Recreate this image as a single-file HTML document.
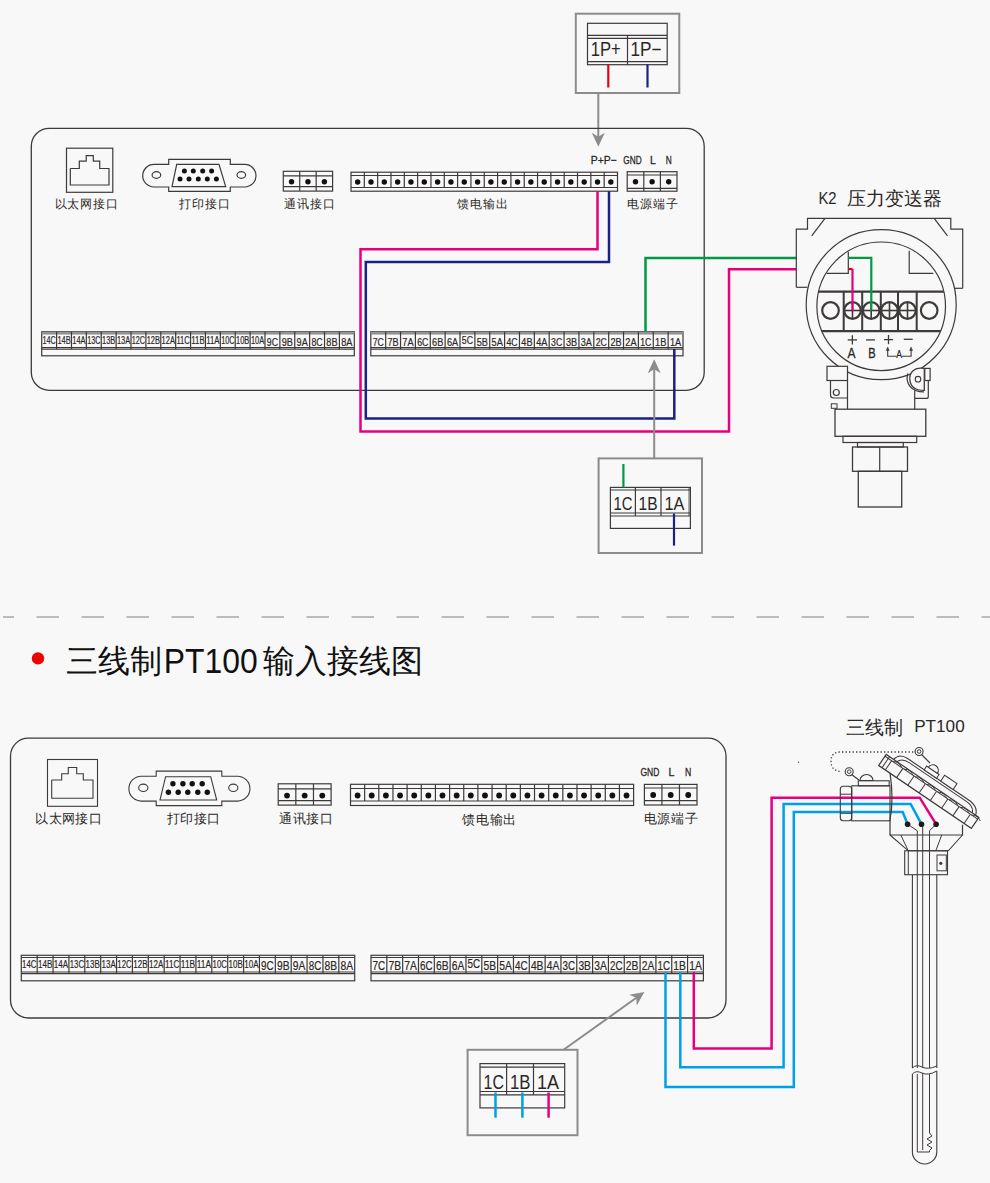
<!DOCTYPE html>
<html><head><meta charset="utf-8"><style>
html,body{margin:0;padding:0;background:#f8f8f8;width:990px;height:1183px;overflow:hidden}
svg{position:absolute;left:0;top:0;display:block}
</style></head><body>
<svg width="990" height="1183" viewBox="0 0 990 1183">
<rect x="0" y="0" width="990" height="1183" fill="#f8f8f8"/>
<rect x="575.8" y="13.7" width="103.5" height="79.3" rx="0" stroke="#8c8c8c" stroke-width="2" fill="none" />
<rect x="587.5" y="23.3" width="79.7" height="41.4" rx="0" stroke="#3e3a39" stroke-width="1.2" fill="none" />
<line x1="587.5" y1="35.3" x2="667.2" y2="35.3" stroke="#3e3a39" stroke-width="1.2" />
<line x1="587.5" y1="38.3" x2="667.2" y2="38.3" stroke="#3e3a39" stroke-width="1.2" />
<line x1="587.5" y1="61.7" x2="667.2" y2="61.7" stroke="#3e3a39" stroke-width="1.2" />
<line x1="627.5" y1="35.3" x2="627.5" y2="64.7" stroke="#3e3a39" stroke-width="1.2" />
<text x="590.8" y="56.3" font-size="19.5" fill="#2b2726" text-anchor="start" font-weight="400" font-family="Liberation Sans, sans-serif" textLength="30" lengthAdjust="spacingAndGlyphs" >1P+</text>
<text x="630.5" y="56.3" font-size="19.5" fill="#2b2726" text-anchor="start" font-weight="400" font-family="Liberation Sans, sans-serif" textLength="31" lengthAdjust="spacingAndGlyphs" >1P&#8722;</text>
<line x1="608.3" y1="64.5" x2="608.3" y2="87.5" stroke="#e60012" stroke-width="2.2" />
<line x1="647.5" y1="64.5" x2="647.5" y2="87.5" stroke="#1d2088" stroke-width="2.2" />
<line x1="598.3" y1="93" x2="598.3" y2="140.7" stroke="#8c8c8c" stroke-width="2" />
<polygon points="598.3,146.7 591.8,132.7 598.3,136.7 604.8,132.7" stroke="none" stroke-width="0" fill="#8c8c8c" stroke-linejoin="miter" />
<rect x="31.3" y="128.3" width="672.9" height="262" rx="18" stroke="#3e3a39" stroke-width="1.3" fill="none" />
<rect x="66.5" y="148.2" width="46.3" height="44.1" rx="0" stroke="#3e3a39" stroke-width="1.2" fill="none" />
<polyline points="70.3,168.5 79.3,168.5 79.3,161.2 86.2,161.2 86.2,155.7 93.3,155.7 93.3,161.2 99.7,161.2 99.7,168.5 109,168.5 109,185 70.3,185 70.3,168.5" stroke="#3e3a39" stroke-width="1.2" fill="none" stroke-linejoin="miter" />
<text x="54.5" y="207.8" font-size="12" fill="#2b2726" text-anchor="start" font-weight="500" letter-spacing="0.75" font-family="Liberation Sans, sans-serif" >以太网接口</text>
<path d="M168.7,164.4 L154,164.4 A11.3,11.3 0 0 0 154,187 L168.7,187 L168.7,191.3 L230.3,191.3 L230.3,187 L244.7,187 A11.3,11.3 0 0 0 244.7,164.4 L230.3,164.4 L230.3,159.3 L168.7,159.3 Z" stroke="#3e3a39" stroke-width="1.2" fill="none" />
<polygon points="176.7,164.4 219,164.4 225.7,186.7 172,186.7" stroke="#3e3a39" stroke-width="1.2" fill="none" stroke-linejoin="miter" />
<ellipse cx="156.4" cy="175" rx="4.3" ry="3.4" stroke="#3e3a39" stroke-width="1.2" fill="none"/>
<ellipse cx="241.3" cy="175" rx="4.3" ry="3.4" stroke="#3e3a39" stroke-width="1.2" fill="none"/>
<circle cx="184.4" cy="171" r="2.5" fill="#111"/>
<circle cx="193.3" cy="171" r="2.5" fill="#111"/>
<circle cx="202.7" cy="171" r="2.5" fill="#111"/>
<circle cx="211.6" cy="171" r="2.5" fill="#111"/>
<circle cx="180" cy="179" r="2.5" fill="#111"/>
<circle cx="189" cy="179" r="2.5" fill="#111"/>
<circle cx="198.3" cy="179" r="2.5" fill="#111"/>
<circle cx="207.3" cy="179" r="2.5" fill="#111"/>
<circle cx="216.4" cy="179" r="2.5" fill="#111"/>
<text x="178.5" y="207.8" font-size="12" fill="#2b2726" text-anchor="start" font-weight="500" letter-spacing="1" font-family="Liberation Sans, sans-serif" >打印接口</text>
<rect x="283.3" y="171.3" width="49.3" height="19.8" rx="0" stroke="#3e3a39" stroke-width="1.2" fill="none" />
<line x1="283.3" y1="175.8" x2="332.6" y2="175.8" stroke="#3e3a39" stroke-width="1.2" />
<line x1="283.3" y1="186.7" x2="332.6" y2="186.7" stroke="#3e3a39" stroke-width="1.2" />
<line x1="299.73" y1="171.3" x2="299.73" y2="191.1" stroke="#3e3a39" stroke-width="1.2" />
<line x1="316.17" y1="171.3" x2="316.17" y2="191.1" stroke="#3e3a39" stroke-width="1.2" />
<circle cx="291.52" cy="181.8" r="2.7" fill="#111"/>
<circle cx="307.95" cy="181.8" r="2.7" fill="#111"/>
<circle cx="324.38" cy="181.8" r="2.7" fill="#111"/>
<text x="283.8" y="207.8" font-size="12" fill="#2b2726" text-anchor="start" font-weight="500" letter-spacing="1" font-family="Liberation Sans, sans-serif" >通讯接口</text>
<rect x="351" y="172.2" width="266.5" height="19" rx="0" stroke="#3e3a39" stroke-width="1.2" fill="none" />
<line x1="351" y1="175.5" x2="617.5" y2="175.5" stroke="#3e3a39" stroke-width="1.2" />
<line x1="351" y1="187.5" x2="617.5" y2="187.5" stroke="#3e3a39" stroke-width="1.2" />
<line x1="364.32" y1="172.2" x2="364.32" y2="187.5" stroke="#3e3a39" stroke-width="1.2" />
<line x1="377.65" y1="172.2" x2="377.65" y2="187.5" stroke="#3e3a39" stroke-width="1.2" />
<line x1="390.98" y1="172.2" x2="390.98" y2="187.5" stroke="#3e3a39" stroke-width="1.2" />
<line x1="404.3" y1="172.2" x2="404.3" y2="187.5" stroke="#3e3a39" stroke-width="1.2" />
<line x1="417.62" y1="172.2" x2="417.62" y2="187.5" stroke="#3e3a39" stroke-width="1.2" />
<line x1="430.95" y1="172.2" x2="430.95" y2="187.5" stroke="#3e3a39" stroke-width="1.2" />
<line x1="444.27" y1="172.2" x2="444.27" y2="187.5" stroke="#3e3a39" stroke-width="1.2" />
<line x1="457.6" y1="172.2" x2="457.6" y2="187.5" stroke="#3e3a39" stroke-width="1.2" />
<line x1="470.93" y1="172.2" x2="470.93" y2="187.5" stroke="#3e3a39" stroke-width="1.2" />
<line x1="484.25" y1="172.2" x2="484.25" y2="187.5" stroke="#3e3a39" stroke-width="1.2" />
<line x1="497.57" y1="172.2" x2="497.57" y2="187.5" stroke="#3e3a39" stroke-width="1.2" />
<line x1="510.9" y1="172.2" x2="510.9" y2="187.5" stroke="#3e3a39" stroke-width="1.2" />
<line x1="524.23" y1="172.2" x2="524.23" y2="187.5" stroke="#3e3a39" stroke-width="1.2" />
<line x1="537.55" y1="172.2" x2="537.55" y2="187.5" stroke="#3e3a39" stroke-width="1.2" />
<line x1="550.88" y1="172.2" x2="550.88" y2="187.5" stroke="#3e3a39" stroke-width="1.2" />
<line x1="564.2" y1="172.2" x2="564.2" y2="187.5" stroke="#3e3a39" stroke-width="1.2" />
<line x1="577.52" y1="172.2" x2="577.52" y2="187.5" stroke="#3e3a39" stroke-width="1.2" />
<line x1="590.85" y1="172.2" x2="590.85" y2="187.5" stroke="#3e3a39" stroke-width="1.2" />
<line x1="604.17" y1="172.2" x2="604.17" y2="187.5" stroke="#3e3a39" stroke-width="1.2" />
<circle cx="357.66" cy="182" r="2.7" fill="#111"/>
<circle cx="370.99" cy="182" r="2.7" fill="#111"/>
<circle cx="384.31" cy="182" r="2.7" fill="#111"/>
<circle cx="397.64" cy="182" r="2.7" fill="#111"/>
<circle cx="410.96" cy="182" r="2.7" fill="#111"/>
<circle cx="424.29" cy="182" r="2.7" fill="#111"/>
<circle cx="437.61" cy="182" r="2.7" fill="#111"/>
<circle cx="450.94" cy="182" r="2.7" fill="#111"/>
<circle cx="464.26" cy="182" r="2.7" fill="#111"/>
<circle cx="477.59" cy="182" r="2.7" fill="#111"/>
<circle cx="490.91" cy="182" r="2.7" fill="#111"/>
<circle cx="504.24" cy="182" r="2.7" fill="#111"/>
<circle cx="517.56" cy="182" r="2.7" fill="#111"/>
<circle cx="530.89" cy="182" r="2.7" fill="#111"/>
<circle cx="544.21" cy="182" r="2.7" fill="#111"/>
<circle cx="557.54" cy="182" r="2.7" fill="#111"/>
<circle cx="570.86" cy="182" r="2.7" fill="#111"/>
<circle cx="584.19" cy="182" r="2.7" fill="#111"/>
<circle cx="597.51" cy="182" r="2.7" fill="#111"/>
<circle cx="610.84" cy="182" r="2.7" fill="#111"/>
<text x="456.5" y="207.8" font-size="12" fill="#2b2726" text-anchor="start" font-weight="500" letter-spacing="1" font-family="Liberation Sans, sans-serif" >馈电输出</text>
<text x="590.8" y="164.2" font-size="11.5" fill="#2b2726" text-anchor="start" font-weight="400" font-family="Liberation Sans, sans-serif" textLength="26" lengthAdjust="spacingAndGlyphs" stroke="#2b2726" stroke-width="0.3">P+P&#8722;</text>
<text x="623.3" y="164.2" font-size="11.5" fill="#2b2726" text-anchor="start" font-weight="400" font-family="Liberation Sans, sans-serif" textLength="18.4" lengthAdjust="spacingAndGlyphs" stroke="#2b2726" stroke-width="0.3">GND</text>
<text x="650" y="164.2" font-size="11.5" fill="#2b2726" text-anchor="start" font-weight="400" font-family="Liberation Sans, sans-serif" textLength="5.8" lengthAdjust="spacingAndGlyphs" stroke="#2b2726" stroke-width="0.3">L</text>
<text x="665.8" y="164.2" font-size="11.5" fill="#2b2726" text-anchor="start" font-weight="400" font-family="Liberation Sans, sans-serif" textLength="6" lengthAdjust="spacingAndGlyphs" stroke="#2b2726" stroke-width="0.3">N</text>
<rect x="627.2" y="171.7" width="49.8" height="19.5" rx="0" stroke="#3e3a39" stroke-width="1.2" fill="none" />
<line x1="627.2" y1="175" x2="677" y2="175" stroke="#3e3a39" stroke-width="1.2" />
<line x1="627.2" y1="188.3" x2="677" y2="188.3" stroke="#3e3a39" stroke-width="1.2" />
<line x1="643.8" y1="171.7" x2="643.8" y2="191.2" stroke="#3e3a39" stroke-width="1.2" />
<line x1="660.4" y1="171.7" x2="660.4" y2="191.2" stroke="#3e3a39" stroke-width="1.2" />
<circle cx="635.5" cy="181.7" r="2.7" fill="#111"/>
<circle cx="652.1" cy="181.7" r="2.7" fill="#111"/>
<circle cx="668.7" cy="181.7" r="2.7" fill="#111"/>
<text x="627.2" y="207.8" font-size="12" fill="#2b2726" text-anchor="start" font-weight="500" letter-spacing="0.8" font-family="Liberation Sans, sans-serif" >电源端子</text>
<rect x="41.7" y="331.7" width="312.6" height="24.1" rx="0" stroke="#3e3a39" stroke-width="1.2" fill="none" />
<rect x="41.7" y="331.7" width="312.6" height="2.3" rx="0" stroke="none" stroke-width="0" fill="#9a9a9a" />
<line x1="41.7" y1="334" x2="354.3" y2="334" stroke="#777" stroke-width="0.8" />
<line x1="41.7" y1="347.5" x2="354.3" y2="347.5" stroke="#3e3a39" stroke-width="1.2" />
<line x1="41.7" y1="349.2" x2="354.3" y2="349.2" stroke="#3e3a39" stroke-width="1.2" />
<line x1="56.59" y1="331.7" x2="56.59" y2="349.2" stroke="#3e3a39" stroke-width="1.2" />
<line x1="71.47" y1="331.7" x2="71.47" y2="349.2" stroke="#3e3a39" stroke-width="1.2" />
<line x1="86.36" y1="331.7" x2="86.36" y2="349.2" stroke="#3e3a39" stroke-width="1.2" />
<line x1="101.24" y1="331.7" x2="101.24" y2="349.2" stroke="#3e3a39" stroke-width="1.2" />
<line x1="116.13" y1="331.7" x2="116.13" y2="349.2" stroke="#3e3a39" stroke-width="1.2" />
<line x1="131.01" y1="331.7" x2="131.01" y2="349.2" stroke="#3e3a39" stroke-width="1.2" />
<line x1="145.9" y1="331.7" x2="145.9" y2="349.2" stroke="#3e3a39" stroke-width="1.2" />
<line x1="160.79" y1="331.7" x2="160.79" y2="349.2" stroke="#3e3a39" stroke-width="1.2" />
<line x1="175.67" y1="331.7" x2="175.67" y2="349.2" stroke="#3e3a39" stroke-width="1.2" />
<line x1="190.56" y1="331.7" x2="190.56" y2="349.2" stroke="#3e3a39" stroke-width="1.2" />
<line x1="205.44" y1="331.7" x2="205.44" y2="349.2" stroke="#3e3a39" stroke-width="1.2" />
<line x1="220.33" y1="331.7" x2="220.33" y2="349.2" stroke="#3e3a39" stroke-width="1.2" />
<line x1="235.21" y1="331.7" x2="235.21" y2="349.2" stroke="#3e3a39" stroke-width="1.2" />
<line x1="250.1" y1="331.7" x2="250.1" y2="349.2" stroke="#3e3a39" stroke-width="1.2" />
<line x1="264.99" y1="331.7" x2="264.99" y2="349.2" stroke="#3e3a39" stroke-width="1.2" />
<line x1="279.87" y1="331.7" x2="279.87" y2="349.2" stroke="#3e3a39" stroke-width="1.2" />
<line x1="294.76" y1="331.7" x2="294.76" y2="349.2" stroke="#3e3a39" stroke-width="1.2" />
<line x1="309.64" y1="331.7" x2="309.64" y2="349.2" stroke="#3e3a39" stroke-width="1.2" />
<line x1="324.53" y1="331.7" x2="324.53" y2="349.2" stroke="#3e3a39" stroke-width="1.2" />
<line x1="339.41" y1="331.7" x2="339.41" y2="349.2" stroke="#3e3a39" stroke-width="1.2" />
<text x="42.5" y="344.2" font-size="10.3" fill="#2b2726" text-anchor="start" font-weight="400" font-family="Liberation Sans, sans-serif" textLength="13.29" lengthAdjust="spacingAndGlyphs" stroke="#2b2726" stroke-width="0.2">14C</text>
<text x="57.39" y="344.2" font-size="10.3" fill="#2b2726" text-anchor="start" font-weight="400" font-family="Liberation Sans, sans-serif" textLength="13.29" lengthAdjust="spacingAndGlyphs" stroke="#2b2726" stroke-width="0.2">14B</text>
<text x="72.27" y="344.2" font-size="10.3" fill="#2b2726" text-anchor="start" font-weight="400" font-family="Liberation Sans, sans-serif" textLength="13.29" lengthAdjust="spacingAndGlyphs" stroke="#2b2726" stroke-width="0.2">14A</text>
<text x="87.16" y="344.2" font-size="10.3" fill="#2b2726" text-anchor="start" font-weight="400" font-family="Liberation Sans, sans-serif" textLength="13.29" lengthAdjust="spacingAndGlyphs" stroke="#2b2726" stroke-width="0.2">13C</text>
<text x="102.04" y="344.2" font-size="10.3" fill="#2b2726" text-anchor="start" font-weight="400" font-family="Liberation Sans, sans-serif" textLength="13.29" lengthAdjust="spacingAndGlyphs" stroke="#2b2726" stroke-width="0.2">13B</text>
<text x="116.93" y="344.2" font-size="10.3" fill="#2b2726" text-anchor="start" font-weight="400" font-family="Liberation Sans, sans-serif" textLength="13.29" lengthAdjust="spacingAndGlyphs" stroke="#2b2726" stroke-width="0.2">13A</text>
<text x="131.81" y="344.2" font-size="10.3" fill="#2b2726" text-anchor="start" font-weight="400" font-family="Liberation Sans, sans-serif" textLength="13.29" lengthAdjust="spacingAndGlyphs" stroke="#2b2726" stroke-width="0.2">12C</text>
<text x="146.7" y="344.2" font-size="10.3" fill="#2b2726" text-anchor="start" font-weight="400" font-family="Liberation Sans, sans-serif" textLength="13.29" lengthAdjust="spacingAndGlyphs" stroke="#2b2726" stroke-width="0.2">12B</text>
<text x="161.59" y="344.2" font-size="10.3" fill="#2b2726" text-anchor="start" font-weight="400" font-family="Liberation Sans, sans-serif" textLength="13.29" lengthAdjust="spacingAndGlyphs" stroke="#2b2726" stroke-width="0.2">12A</text>
<text x="176.47" y="344.2" font-size="10.3" fill="#2b2726" text-anchor="start" font-weight="400" font-family="Liberation Sans, sans-serif" textLength="13.29" lengthAdjust="spacingAndGlyphs" stroke="#2b2726" stroke-width="0.2">11C</text>
<text x="191.36" y="344.2" font-size="10.3" fill="#2b2726" text-anchor="start" font-weight="400" font-family="Liberation Sans, sans-serif" textLength="13.29" lengthAdjust="spacingAndGlyphs" stroke="#2b2726" stroke-width="0.2">11B</text>
<text x="206.24" y="344.2" font-size="10.3" fill="#2b2726" text-anchor="start" font-weight="400" font-family="Liberation Sans, sans-serif" textLength="13.29" lengthAdjust="spacingAndGlyphs" stroke="#2b2726" stroke-width="0.2">11A</text>
<text x="221.13" y="344.2" font-size="10.3" fill="#2b2726" text-anchor="start" font-weight="400" font-family="Liberation Sans, sans-serif" textLength="13.29" lengthAdjust="spacingAndGlyphs" stroke="#2b2726" stroke-width="0.2">10C</text>
<text x="236.01" y="344.2" font-size="10.3" fill="#2b2726" text-anchor="start" font-weight="400" font-family="Liberation Sans, sans-serif" textLength="13.29" lengthAdjust="spacingAndGlyphs" stroke="#2b2726" stroke-width="0.2">10B</text>
<text x="250.9" y="344.2" font-size="10.3" fill="#2b2726" text-anchor="start" font-weight="400" font-family="Liberation Sans, sans-serif" textLength="13.29" lengthAdjust="spacingAndGlyphs" stroke="#2b2726" stroke-width="0.2">10A</text>
<text x="266.83" y="345.8" font-size="11.2" fill="#2b2726" text-anchor="start" font-weight="400" font-family="Liberation Sans, sans-serif" textLength="11.2" lengthAdjust="spacingAndGlyphs" stroke="#2b2726" stroke-width="0.2">9C</text>
<text x="281.71" y="345.8" font-size="11.2" fill="#2b2726" text-anchor="start" font-weight="400" font-family="Liberation Sans, sans-serif" textLength="11.2" lengthAdjust="spacingAndGlyphs" stroke="#2b2726" stroke-width="0.2">9B</text>
<text x="296.6" y="345.8" font-size="11.2" fill="#2b2726" text-anchor="start" font-weight="400" font-family="Liberation Sans, sans-serif" textLength="11.2" lengthAdjust="spacingAndGlyphs" stroke="#2b2726" stroke-width="0.2">9A</text>
<text x="311.49" y="345.8" font-size="11.2" fill="#2b2726" text-anchor="start" font-weight="400" font-family="Liberation Sans, sans-serif" textLength="11.2" lengthAdjust="spacingAndGlyphs" stroke="#2b2726" stroke-width="0.2">8C</text>
<text x="326.37" y="345.8" font-size="11.2" fill="#2b2726" text-anchor="start" font-weight="400" font-family="Liberation Sans, sans-serif" textLength="11.2" lengthAdjust="spacingAndGlyphs" stroke="#2b2726" stroke-width="0.2">8B</text>
<text x="341.26" y="345.8" font-size="11.2" fill="#2b2726" text-anchor="start" font-weight="400" font-family="Liberation Sans, sans-serif" textLength="11.2" lengthAdjust="spacingAndGlyphs" stroke="#2b2726" stroke-width="0.2">8A</text>
<rect x="370.8" y="331.7" width="312.2" height="24.1" rx="0" stroke="#3e3a39" stroke-width="1.2" fill="none" />
<rect x="370.8" y="331.7" width="312.2" height="2.3" rx="0" stroke="none" stroke-width="0" fill="#9a9a9a" />
<line x1="370.8" y1="334" x2="683" y2="334" stroke="#777" stroke-width="0.8" />
<line x1="370.8" y1="347.5" x2="683" y2="347.5" stroke="#3e3a39" stroke-width="1.2" />
<line x1="370.8" y1="349.2" x2="683" y2="349.2" stroke="#3e3a39" stroke-width="1.2" />
<line x1="385.67" y1="331.7" x2="385.67" y2="349.2" stroke="#3e3a39" stroke-width="1.2" />
<line x1="400.53" y1="331.7" x2="400.53" y2="349.2" stroke="#3e3a39" stroke-width="1.2" />
<line x1="415.4" y1="331.7" x2="415.4" y2="349.2" stroke="#3e3a39" stroke-width="1.2" />
<line x1="430.27" y1="331.7" x2="430.27" y2="349.2" stroke="#3e3a39" stroke-width="1.2" />
<line x1="445.13" y1="331.7" x2="445.13" y2="349.2" stroke="#3e3a39" stroke-width="1.2" />
<line x1="460" y1="331.7" x2="460" y2="349.2" stroke="#3e3a39" stroke-width="1.2" />
<line x1="474.87" y1="331.7" x2="474.87" y2="349.2" stroke="#3e3a39" stroke-width="1.2" />
<line x1="489.73" y1="331.7" x2="489.73" y2="349.2" stroke="#3e3a39" stroke-width="1.2" />
<line x1="504.6" y1="331.7" x2="504.6" y2="349.2" stroke="#3e3a39" stroke-width="1.2" />
<line x1="519.47" y1="331.7" x2="519.47" y2="349.2" stroke="#3e3a39" stroke-width="1.2" />
<line x1="534.33" y1="331.7" x2="534.33" y2="349.2" stroke="#3e3a39" stroke-width="1.2" />
<line x1="549.2" y1="331.7" x2="549.2" y2="349.2" stroke="#3e3a39" stroke-width="1.2" />
<line x1="564.07" y1="331.7" x2="564.07" y2="349.2" stroke="#3e3a39" stroke-width="1.2" />
<line x1="578.93" y1="331.7" x2="578.93" y2="349.2" stroke="#3e3a39" stroke-width="1.2" />
<line x1="593.8" y1="331.7" x2="593.8" y2="349.2" stroke="#3e3a39" stroke-width="1.2" />
<line x1="608.67" y1="331.7" x2="608.67" y2="349.2" stroke="#3e3a39" stroke-width="1.2" />
<line x1="623.53" y1="331.7" x2="623.53" y2="349.2" stroke="#3e3a39" stroke-width="1.2" />
<line x1="638.4" y1="331.7" x2="638.4" y2="349.2" stroke="#3e3a39" stroke-width="1.2" />
<line x1="653.27" y1="331.7" x2="653.27" y2="349.2" stroke="#3e3a39" stroke-width="1.2" />
<line x1="668.13" y1="331.7" x2="668.13" y2="349.2" stroke="#3e3a39" stroke-width="1.2" />
<text x="372.63" y="345.8" font-size="11.2" fill="#2b2726" text-anchor="start" font-weight="400" font-family="Liberation Sans, sans-serif" textLength="11.2" lengthAdjust="spacingAndGlyphs" stroke="#2b2726" stroke-width="0.2">7C</text>
<text x="387.5" y="345.8" font-size="11.2" fill="#2b2726" text-anchor="start" font-weight="400" font-family="Liberation Sans, sans-serif" textLength="11.2" lengthAdjust="spacingAndGlyphs" stroke="#2b2726" stroke-width="0.2">7B</text>
<text x="402.37" y="345.8" font-size="11.2" fill="#2b2726" text-anchor="start" font-weight="400" font-family="Liberation Sans, sans-serif" textLength="11.2" lengthAdjust="spacingAndGlyphs" stroke="#2b2726" stroke-width="0.2">7A</text>
<text x="417.23" y="345.8" font-size="11.2" fill="#2b2726" text-anchor="start" font-weight="400" font-family="Liberation Sans, sans-serif" textLength="11.2" lengthAdjust="spacingAndGlyphs" stroke="#2b2726" stroke-width="0.2">6C</text>
<text x="432.1" y="345.8" font-size="11.2" fill="#2b2726" text-anchor="start" font-weight="400" font-family="Liberation Sans, sans-serif" textLength="11.2" lengthAdjust="spacingAndGlyphs" stroke="#2b2726" stroke-width="0.2">6B</text>
<text x="446.97" y="345.8" font-size="11.2" fill="#2b2726" text-anchor="start" font-weight="400" font-family="Liberation Sans, sans-serif" textLength="11.2" lengthAdjust="spacingAndGlyphs" stroke="#2b2726" stroke-width="0.2">6A</text>
<text x="461.83" y="343.8" font-size="11.2" fill="#2b2726" text-anchor="start" font-weight="400" font-family="Liberation Sans, sans-serif" textLength="11.2" lengthAdjust="spacingAndGlyphs" stroke="#2b2726" stroke-width="0.2">5C</text>
<text x="476.7" y="345.8" font-size="11.2" fill="#2b2726" text-anchor="start" font-weight="400" font-family="Liberation Sans, sans-serif" textLength="11.2" lengthAdjust="spacingAndGlyphs" stroke="#2b2726" stroke-width="0.2">5B</text>
<text x="491.57" y="345.8" font-size="11.2" fill="#2b2726" text-anchor="start" font-weight="400" font-family="Liberation Sans, sans-serif" textLength="11.2" lengthAdjust="spacingAndGlyphs" stroke="#2b2726" stroke-width="0.2">5A</text>
<text x="506.43" y="345.8" font-size="11.2" fill="#2b2726" text-anchor="start" font-weight="400" font-family="Liberation Sans, sans-serif" textLength="11.2" lengthAdjust="spacingAndGlyphs" stroke="#2b2726" stroke-width="0.2">4C</text>
<text x="521.3" y="345.8" font-size="11.2" fill="#2b2726" text-anchor="start" font-weight="400" font-family="Liberation Sans, sans-serif" textLength="11.2" lengthAdjust="spacingAndGlyphs" stroke="#2b2726" stroke-width="0.2">4B</text>
<text x="536.17" y="345.8" font-size="11.2" fill="#2b2726" text-anchor="start" font-weight="400" font-family="Liberation Sans, sans-serif" textLength="11.2" lengthAdjust="spacingAndGlyphs" stroke="#2b2726" stroke-width="0.2">4A</text>
<text x="551.03" y="345.8" font-size="11.2" fill="#2b2726" text-anchor="start" font-weight="400" font-family="Liberation Sans, sans-serif" textLength="11.2" lengthAdjust="spacingAndGlyphs" stroke="#2b2726" stroke-width="0.2">3C</text>
<text x="565.9" y="345.8" font-size="11.2" fill="#2b2726" text-anchor="start" font-weight="400" font-family="Liberation Sans, sans-serif" textLength="11.2" lengthAdjust="spacingAndGlyphs" stroke="#2b2726" stroke-width="0.2">3B</text>
<text x="580.77" y="345.8" font-size="11.2" fill="#2b2726" text-anchor="start" font-weight="400" font-family="Liberation Sans, sans-serif" textLength="11.2" lengthAdjust="spacingAndGlyphs" stroke="#2b2726" stroke-width="0.2">3A</text>
<text x="595.63" y="345.8" font-size="11.2" fill="#2b2726" text-anchor="start" font-weight="400" font-family="Liberation Sans, sans-serif" textLength="11.2" lengthAdjust="spacingAndGlyphs" stroke="#2b2726" stroke-width="0.2">2C</text>
<text x="610.5" y="345.8" font-size="11.2" fill="#2b2726" text-anchor="start" font-weight="400" font-family="Liberation Sans, sans-serif" textLength="11.2" lengthAdjust="spacingAndGlyphs" stroke="#2b2726" stroke-width="0.2">2B</text>
<text x="625.37" y="345.8" font-size="11.2" fill="#2b2726" text-anchor="start" font-weight="400" font-family="Liberation Sans, sans-serif" textLength="11.2" lengthAdjust="spacingAndGlyphs" stroke="#2b2726" stroke-width="0.2">2A</text>
<text x="640.23" y="345.8" font-size="11.2" fill="#2b2726" text-anchor="start" font-weight="400" font-family="Liberation Sans, sans-serif" textLength="11.2" lengthAdjust="spacingAndGlyphs" stroke="#2b2726" stroke-width="0.2">1C</text>
<text x="655.1" y="345.8" font-size="11.2" fill="#2b2726" text-anchor="start" font-weight="400" font-family="Liberation Sans, sans-serif" textLength="11.2" lengthAdjust="spacingAndGlyphs" stroke="#2b2726" stroke-width="0.2">1B</text>
<text x="669.97" y="345.8" font-size="11.2" fill="#2b2726" text-anchor="start" font-weight="400" font-family="Liberation Sans, sans-serif" textLength="11.2" lengthAdjust="spacingAndGlyphs" stroke="#2b2726" stroke-width="0.2">1A</text>
<polyline points="597.5,191.2 597.5,249.2 360.5,249.2 360.5,431.5 729,431.5 729,269.2 796.3,269.2" stroke="#e4007f" stroke-width="2.5" fill="none" stroke-linejoin="miter" />
<polyline points="609,191.2 609,261.9 365.8,261.9 365.8,418.4 674.3,418.4 674.3,349" stroke="#1d2088" stroke-width="2.5" fill="none" stroke-linejoin="miter" />
<polyline points="645.5,331.7 645.5,258 796.3,258" stroke="#009944" stroke-width="2.5" fill="none" stroke-linejoin="miter" />
<line x1="654.2" y1="458.4" x2="654.2" y2="365.2" stroke="#8c8c8c" stroke-width="2" />
<polygon points="654.2,359.2 660.7,373.2 654.2,369.2 647.7,373.2" stroke="none" stroke-width="0" fill="#8c8c8c" stroke-linejoin="miter" />
<rect x="598.6" y="458.4" width="103.4" height="94.6" rx="0" stroke="#8c8c8c" stroke-width="2" fill="none" />
<rect x="610.4" y="487.4" width="80" height="41" rx="0" stroke="#3e3a39" stroke-width="1.2" fill="none" />
<line x1="610.4" y1="490" x2="690.4" y2="490" stroke="#3e3a39" stroke-width="1.2" />
<line x1="610.4" y1="513" x2="690.4" y2="513" stroke="#3e3a39" stroke-width="1.2" />
<line x1="610.4" y1="516" x2="690.4" y2="516" stroke="#3e3a39" stroke-width="1.2" />
<line x1="635.4" y1="487.4" x2="635.4" y2="516" stroke="#3e3a39" stroke-width="1.2" />
<line x1="661" y1="487.4" x2="661" y2="516" stroke="#3e3a39" stroke-width="1.2" />
<line x1="689" y1="487.4" x2="689" y2="516" stroke="#3e3a39" stroke-width="0.8" />
<text x="613.5" y="510.4" font-size="18.4" fill="#2b2726" text-anchor="start" font-weight="400" font-family="Liberation Sans, sans-serif" textLength="19" lengthAdjust="spacingAndGlyphs" >1C</text>
<text x="638.5" y="510.4" font-size="18.4" fill="#2b2726" text-anchor="start" font-weight="400" font-family="Liberation Sans, sans-serif" textLength="19" lengthAdjust="spacingAndGlyphs" >1B</text>
<text x="664.5" y="510.4" font-size="18.4" fill="#2b2726" text-anchor="start" font-weight="400" font-family="Liberation Sans, sans-serif" textLength="20" lengthAdjust="spacingAndGlyphs" >1A</text>
<line x1="623.4" y1="464" x2="623.4" y2="487.4" stroke="#009944" stroke-width="2.2" />
<line x1="674" y1="513.6" x2="674" y2="545.6" stroke="#1d2088" stroke-width="2.2" />
<text x="818.4" y="204.1" font-size="16.5" fill="#2b2726" text-anchor="start" font-weight="400" font-family="Liberation Sans, sans-serif" textLength="18.2" lengthAdjust="spacingAndGlyphs" >K2</text>
<text x="847" y="204.5" font-size="18.6" fill="#2b2726" text-anchor="start" font-weight="400" letter-spacing="0" font-family="Liberation Sans, sans-serif" >压力变送器</text>
<polyline points="796.3,287.3 796.3,229.2 807.5,229.2 807.5,218.3 950.8,218.3 950.8,229.2 962.7,229.2 962.7,288.3" stroke="#3e3a39" stroke-width="1.2" fill="none" stroke-linejoin="miter" />
<line x1="825" y1="218.3" x2="811.7" y2="235.8" stroke="#3e3a39" stroke-width="1.2" />
<line x1="934.2" y1="218.3" x2="947.5" y2="235.8" stroke="#3e3a39" stroke-width="1.2" />
<line x1="796.3" y1="287.3" x2="807.5" y2="287.3" stroke="#3e3a39" stroke-width="1.2" />
<line x1="962.7" y1="288.3" x2="955" y2="288.3" stroke="#3e3a39" stroke-width="1.2" />
<circle cx="881.2" cy="304.7" r="75" stroke="#3e3a39" stroke-width="1.2" fill="none"/>
<circle cx="881.2" cy="306.3" r="64.3" stroke="#3e3a39" stroke-width="1.2" fill="none"/>
<polyline points="848.3,251.7 848.3,273.3 826.7,273.3" stroke="#3e3a39" stroke-width="1.2" fill="none" stroke-linejoin="miter" />
<polyline points="909.2,250.8 909.2,273.3 933.3,273.3" stroke="#3e3a39" stroke-width="1.2" fill="none" stroke-linejoin="miter" />
<clipPath id="ic"><circle cx="881.2" cy="306.3" r="64.3"/></clipPath>
<g clip-path="url(#ic)">
<line x1="810" y1="291.7" x2="950" y2="291.7" stroke="#3e3a39" stroke-width="2.2" />
<line x1="810" y1="331.2" x2="950" y2="331.2" stroke="#3e3a39" stroke-width="2.2" />
<line x1="843.7" y1="291.7" x2="843.7" y2="331.2" stroke="#3e3a39" stroke-width="2" />
<line x1="862.2" y1="291.7" x2="862.2" y2="331.2" stroke="#3e3a39" stroke-width="2" />
<line x1="880.8" y1="291.7" x2="880.8" y2="331.2" stroke="#3e3a39" stroke-width="2" />
<line x1="898" y1="291.7" x2="898" y2="331.2" stroke="#3e3a39" stroke-width="2" />
<line x1="916.7" y1="291.7" x2="916.7" y2="331.2" stroke="#3e3a39" stroke-width="2" />
</g>
<circle cx="830.5" cy="310.5" r="8.3" stroke="#3e3a39" stroke-width="2.2" fill="none"/>
<circle cx="929.2" cy="310.5" r="8.3" stroke="#3e3a39" stroke-width="2.2" fill="none"/>
<circle cx="852.5" cy="310.5" r="8.3" stroke="#3e3a39" stroke-width="2.2" fill="none"/>
<line x1="844.2" y1="310.5" x2="860.8" y2="310.5" stroke="#3e3a39" stroke-width="1.6" />
<line x1="852.5" y1="302.2" x2="852.5" y2="318.8" stroke="#3e3a39" stroke-width="1.6" />
<circle cx="871.2" cy="310.5" r="8.3" stroke="#3e3a39" stroke-width="2.2" fill="none"/>
<line x1="862.9" y1="310.5" x2="879.5" y2="310.5" stroke="#3e3a39" stroke-width="1.6" />
<line x1="871.2" y1="302.2" x2="871.2" y2="318.8" stroke="#3e3a39" stroke-width="1.6" />
<circle cx="889.5" cy="310.5" r="8.3" stroke="#3e3a39" stroke-width="2.2" fill="none"/>
<line x1="881.2" y1="310.5" x2="897.8" y2="310.5" stroke="#3e3a39" stroke-width="1.6" />
<line x1="889.5" y1="302.2" x2="889.5" y2="318.8" stroke="#3e3a39" stroke-width="1.6" />
<circle cx="907.5" cy="310.5" r="8.3" stroke="#3e3a39" stroke-width="2.2" fill="none"/>
<line x1="899.2" y1="310.5" x2="915.8" y2="310.5" stroke="#3e3a39" stroke-width="1.6" />
<line x1="907.5" y1="302.2" x2="907.5" y2="318.8" stroke="#3e3a39" stroke-width="1.6" />
<polyline points="848.3,269 852.5,269" stroke="#e60012" stroke-width="2.2" fill="none" stroke-linejoin="miter" />
<polyline points="852.5,269 852.5,310.5" stroke="#e4007f" stroke-width="2.2" fill="none" stroke-linejoin="miter" />
<polyline points="848.3,257.8 871.3,257.8 871.3,310.5" stroke="#009944" stroke-width="2.2" fill="none" stroke-linejoin="miter" />
<line x1="847.7" y1="339.9" x2="857" y2="339.9" stroke="#3e3a39" stroke-width="1.3" />
<line x1="852.35" y1="335.3" x2="852.35" y2="344.5" stroke="#3e3a39" stroke-width="1.3" />
<line x1="866" y1="339.9" x2="874.9" y2="339.9" stroke="#3e3a39" stroke-width="1.3" />
<line x1="884" y1="339.6" x2="893" y2="339.6" stroke="#3e3a39" stroke-width="1.3" />
<line x1="888.5" y1="335" x2="888.5" y2="344.2" stroke="#3e3a39" stroke-width="1.3" />
<line x1="903.8" y1="339.3" x2="912.7" y2="339.3" stroke="#3e3a39" stroke-width="1.3" />
<text x="847.6" y="357.5" font-size="14.2" fill="#2b2726" text-anchor="start" font-weight="400" font-family="Liberation Sans, sans-serif" textLength="8" lengthAdjust="spacingAndGlyphs" stroke="#2b2726" stroke-width="0.3">A</text>
<text x="868.2" y="357.5" font-size="14.2" fill="#2b2726" text-anchor="start" font-weight="400" font-family="Liberation Sans, sans-serif" textLength="7.4" lengthAdjust="spacingAndGlyphs" stroke="#2b2726" stroke-width="0.3">B</text>
<text x="896.3" y="357.5" font-size="11" fill="#2b2726" text-anchor="start" font-weight="400" font-family="Liberation Sans, sans-serif" textLength="5.8" lengthAdjust="spacingAndGlyphs" stroke="#2b2726" stroke-width="0.2">A</text>
<polyline points="887.7,349 887.7,356.3 896.5,356.3" stroke="#3e3a39" stroke-width="1.1" fill="none" stroke-linejoin="miter" />
<polyline points="902,356.3 911.1,356.3 911.1,349" stroke="#3e3a39" stroke-width="1.1" fill="none" stroke-linejoin="miter" />
<polygon points="886.2,350.5 887.7,347 889.2,350.5" stroke="#3e3a39" stroke-width="0.5" fill="#3e3a39" stroke-linejoin="miter" />
<polygon points="909.6,350.5 911.1,347 912.6,350.5" stroke="#3e3a39" stroke-width="0.5" fill="#3e3a39" stroke-linejoin="miter" />
<rect x="827" y="366.3" width="20.5" height="14.2" rx="0" stroke="#3e3a39" stroke-width="1.2" fill="#f8f8f8" />
<path d="M830.5,380.5 L830.5,395 Q830.5,398 833.5,398 L847.5,398" stroke="#3e3a39" stroke-width="1.2" fill="none" />
<circle cx="836.3" cy="392.5" r="3" stroke="#3e3a39" stroke-width="1.2" fill="none"/>
<rect x="831.3" y="403.8" width="5.7" height="4.5" rx="0" stroke="#3e3a39" stroke-width="1" fill="none" />
<line x1="847.5" y1="380.5" x2="847.5" y2="409.2" stroke="#3e3a39" stroke-width="1.2" />
<line x1="914.7" y1="390.5" x2="914.7" y2="409.2" stroke="#3e3a39" stroke-width="1.2" />
<path d="M924.3,368.4 C913,366.5 909,374 909.9,380 C910.5,387 915,390.4 924.3,390.4 Z" stroke="#3e3a39" stroke-width="1.3" fill="#f8f8f8" />
<path d="M907.8,373.5 C905,383 911,392 924,391.8" stroke="#3e3a39" stroke-width="1.2" fill="none" />
<circle cx="918" cy="379.2" r="2.8" stroke="#3e3a39" stroke-width="1.1" fill="none"/>
<rect x="924.8" y="368.4" width="5.3" height="12.1" rx="0" stroke="#3e3a39" stroke-width="1.2" fill="#f8f8f8" />
<path d="M928.3,380.5 L928.3,396.4 Q928.3,398.4 926.3,398.4 L914.7,398.4" stroke="#3e3a39" stroke-width="1.2" fill="none" />
<rect x="835" y="409.2" width="90.8" height="27.1" rx="0" stroke="#3e3a39" stroke-width="1.3" fill="none" />
<rect x="843" y="436.3" width="73.7" height="6.2" rx="0" stroke="#3e3a39" stroke-width="1.2" fill="none" />
<rect x="857.5" y="442.5" width="45.8" height="4.5" rx="0" stroke="#3e3a39" stroke-width="1.2" fill="none" />
<rect x="852.5" y="447" width="55" height="24.3" rx="0" stroke="#3e3a39" stroke-width="1.3" fill="none" />
<line x1="879.7" y1="447" x2="879.7" y2="471.3" stroke="#3e3a39" stroke-width="1.2" />
<rect x="858.3" y="471.3" width="43.4" height="35.7" rx="0" stroke="#3e3a39" stroke-width="1.3" fill="none" />
<line x1="3" y1="617" x2="990" y2="617" stroke="#a8a8a8" stroke-width="1.3" stroke-dasharray="22.5 22.5" stroke-dashoffset="11.5"/>
<circle cx="38" cy="658.4" r="6.2" fill="#f00000"/>
<rect x="10.5" y="738.1" width="715.5" height="279.9" rx="18" stroke="#3e3a39" stroke-width="1.3" fill="none" />
<rect x="47.5" y="759.5" width="50" height="46.8" rx="0" stroke="#3e3a39" stroke-width="1.1" fill="none" />
<polyline points="51.7,780 61.7,780 61.7,773.7 68.3,773.7 68.3,767.5 76.7,767.5 76.7,773.7 83.3,773.7 83.3,780 93,780 93,798.3 51.7,798.3 51.7,780" stroke="#3e3a39" stroke-width="1.1" fill="none" stroke-linejoin="miter" />
<text x="35.3" y="823.4" font-size="13" fill="#2b2726" text-anchor="start" font-weight="500" letter-spacing="0.4" font-family="Liberation Sans, sans-serif" >以太网接口</text>
<path d="M156.2,776.2 L141.3,776.2 A12.45,12.45 0 0 0 141.3,801.1 L156.2,801.1 L156.2,805.6 L221.8,805.6 L221.8,801.1 L237.5,801.1 A12.45,12.45 0 0 0 237.5,776.2 L221.8,776.2 L221.8,771.1 L156.2,771.1 Z" stroke="#3e3a39" stroke-width="1.1" fill="none" />
<polygon points="165.6,776.7 210.7,776.7 216.7,800 160,800" stroke="#3e3a39" stroke-width="1.1" fill="none" stroke-linejoin="miter" />
<ellipse cx="143.3" cy="787.8" rx="4.6" ry="3.7" stroke="#3e3a39" stroke-width="1.1" fill="none"/>
<ellipse cx="233.3" cy="787.8" rx="4.6" ry="3.7" stroke="#3e3a39" stroke-width="1.1" fill="none"/>
<circle cx="172.9" cy="783.8" r="2.7" fill="#111"/>
<circle cx="182.9" cy="783.8" r="2.7" fill="#111"/>
<circle cx="192.2" cy="783.8" r="2.7" fill="#111"/>
<circle cx="202.2" cy="783.8" r="2.7" fill="#111"/>
<circle cx="168.4" cy="792.2" r="2.7" fill="#111"/>
<circle cx="178.2" cy="792.2" r="2.7" fill="#111"/>
<circle cx="187.8" cy="792.2" r="2.7" fill="#111"/>
<circle cx="197.8" cy="792.2" r="2.7" fill="#111"/>
<circle cx="207.3" cy="792.2" r="2.7" fill="#111"/>
<text x="166.8" y="823.2" font-size="13" fill="#2b2726" text-anchor="start" font-weight="500" letter-spacing="0.5" font-family="Liberation Sans, sans-serif" >打印接口</text>
<rect x="278.2" y="783.8" width="52.9" height="21.3" rx="0" stroke="#3e3a39" stroke-width="1.2" fill="none" />
<line x1="278.2" y1="788.9" x2="331.1" y2="788.9" stroke="#3e3a39" stroke-width="1.2" />
<line x1="278.2" y1="800.7" x2="331.1" y2="800.7" stroke="#3e3a39" stroke-width="1.2" />
<line x1="295.83" y1="783.8" x2="295.83" y2="805.1" stroke="#3e3a39" stroke-width="1.2" />
<line x1="313.47" y1="783.8" x2="313.47" y2="805.1" stroke="#3e3a39" stroke-width="1.2" />
<circle cx="287.02" cy="795.6" r="2.9" fill="#111"/>
<circle cx="304.65" cy="795.6" r="2.9" fill="#111"/>
<circle cx="322.28" cy="795.6" r="2.9" fill="#111"/>
<text x="279" y="823.2" font-size="13" fill="#2b2726" text-anchor="start" font-weight="500" letter-spacing="0.6" font-family="Liberation Sans, sans-serif" >通讯接口</text>
<rect x="350.5" y="784.3" width="283.1" height="21.2" rx="0" stroke="#3e3a39" stroke-width="1.2" fill="none" />
<line x1="350.5" y1="788.5" x2="633.6" y2="788.5" stroke="#3e3a39" stroke-width="1.2" />
<line x1="350.5" y1="801" x2="633.6" y2="801" stroke="#3e3a39" stroke-width="1.2" />
<line x1="364.65" y1="784.3" x2="364.65" y2="801" stroke="#3e3a39" stroke-width="1.2" />
<line x1="378.81" y1="784.3" x2="378.81" y2="801" stroke="#3e3a39" stroke-width="1.2" />
<line x1="392.97" y1="784.3" x2="392.97" y2="801" stroke="#3e3a39" stroke-width="1.2" />
<line x1="407.12" y1="784.3" x2="407.12" y2="801" stroke="#3e3a39" stroke-width="1.2" />
<line x1="421.27" y1="784.3" x2="421.27" y2="801" stroke="#3e3a39" stroke-width="1.2" />
<line x1="435.43" y1="784.3" x2="435.43" y2="801" stroke="#3e3a39" stroke-width="1.2" />
<line x1="449.59" y1="784.3" x2="449.59" y2="801" stroke="#3e3a39" stroke-width="1.2" />
<line x1="463.74" y1="784.3" x2="463.74" y2="801" stroke="#3e3a39" stroke-width="1.2" />
<line x1="477.89" y1="784.3" x2="477.89" y2="801" stroke="#3e3a39" stroke-width="1.2" />
<line x1="492.05" y1="784.3" x2="492.05" y2="801" stroke="#3e3a39" stroke-width="1.2" />
<line x1="506.21" y1="784.3" x2="506.21" y2="801" stroke="#3e3a39" stroke-width="1.2" />
<line x1="520.36" y1="784.3" x2="520.36" y2="801" stroke="#3e3a39" stroke-width="1.2" />
<line x1="534.51" y1="784.3" x2="534.51" y2="801" stroke="#3e3a39" stroke-width="1.2" />
<line x1="548.67" y1="784.3" x2="548.67" y2="801" stroke="#3e3a39" stroke-width="1.2" />
<line x1="562.83" y1="784.3" x2="562.83" y2="801" stroke="#3e3a39" stroke-width="1.2" />
<line x1="576.98" y1="784.3" x2="576.98" y2="801" stroke="#3e3a39" stroke-width="1.2" />
<line x1="591.13" y1="784.3" x2="591.13" y2="801" stroke="#3e3a39" stroke-width="1.2" />
<line x1="605.29" y1="784.3" x2="605.29" y2="801" stroke="#3e3a39" stroke-width="1.2" />
<line x1="619.45" y1="784.3" x2="619.45" y2="801" stroke="#3e3a39" stroke-width="1.2" />
<circle cx="357.58" cy="795.5" r="2.9" fill="#111"/>
<circle cx="371.73" cy="795.5" r="2.9" fill="#111"/>
<circle cx="385.89" cy="795.5" r="2.9" fill="#111"/>
<circle cx="400.04" cy="795.5" r="2.9" fill="#111"/>
<circle cx="414.2" cy="795.5" r="2.9" fill="#111"/>
<circle cx="428.35" cy="795.5" r="2.9" fill="#111"/>
<circle cx="442.51" cy="795.5" r="2.9" fill="#111"/>
<circle cx="456.66" cy="795.5" r="2.9" fill="#111"/>
<circle cx="470.82" cy="795.5" r="2.9" fill="#111"/>
<circle cx="484.97" cy="795.5" r="2.9" fill="#111"/>
<circle cx="499.13" cy="795.5" r="2.9" fill="#111"/>
<circle cx="513.28" cy="795.5" r="2.9" fill="#111"/>
<circle cx="527.44" cy="795.5" r="2.9" fill="#111"/>
<circle cx="541.59" cy="795.5" r="2.9" fill="#111"/>
<circle cx="555.75" cy="795.5" r="2.9" fill="#111"/>
<circle cx="569.9" cy="795.5" r="2.9" fill="#111"/>
<circle cx="584.06" cy="795.5" r="2.9" fill="#111"/>
<circle cx="598.21" cy="795.5" r="2.9" fill="#111"/>
<circle cx="612.37" cy="795.5" r="2.9" fill="#111"/>
<circle cx="626.52" cy="795.5" r="2.9" fill="#111"/>
<text x="462.3" y="823.8" font-size="13" fill="#2b2726" text-anchor="start" font-weight="500" letter-spacing="0.7" font-family="Liberation Sans, sans-serif" >馈电输出</text>
<text x="640.4" y="775.7" font-size="11.5" fill="#2b2726" text-anchor="start" font-weight="400" font-family="Liberation Sans, sans-serif" textLength="18.9" lengthAdjust="spacingAndGlyphs" stroke="#2b2726" stroke-width="0.3">GND</text>
<text x="668.4" y="775.7" font-size="11.5" fill="#2b2726" text-anchor="start" font-weight="400" font-family="Liberation Sans, sans-serif" textLength="5.9" lengthAdjust="spacingAndGlyphs" stroke="#2b2726" stroke-width="0.3">L</text>
<text x="685" y="775.7" font-size="11.5" fill="#2b2726" text-anchor="start" font-weight="400" font-family="Liberation Sans, sans-serif" textLength="6.3" lengthAdjust="spacingAndGlyphs" stroke="#2b2726" stroke-width="0.3">N</text>
<rect x="644.4" y="784.4" width="52.6" height="20.6" rx="0" stroke="#3e3a39" stroke-width="1.2" fill="none" />
<line x1="644.4" y1="788" x2="697" y2="788" stroke="#3e3a39" stroke-width="1.2" />
<line x1="644.4" y1="800.7" x2="697" y2="800.7" stroke="#3e3a39" stroke-width="1.2" />
<line x1="661.93" y1="784.4" x2="661.93" y2="805" stroke="#3e3a39" stroke-width="1.2" />
<line x1="679.47" y1="784.4" x2="679.47" y2="805" stroke="#3e3a39" stroke-width="1.2" />
<circle cx="653.17" cy="795" r="2.9" fill="#111"/>
<circle cx="670.7" cy="795" r="2.9" fill="#111"/>
<circle cx="688.23" cy="795" r="2.9" fill="#111"/>
<text x="643.8" y="823.4" font-size="13" fill="#2b2726" text-anchor="start" font-weight="500" letter-spacing="0.6" font-family="Liberation Sans, sans-serif" >电源端子</text>
<rect x="21.3" y="955.3" width="333.4" height="25.5" rx="0" stroke="#3e3a39" stroke-width="1.2" fill="none" />
<line x1="21.3" y1="957.5" x2="354.7" y2="957.5" stroke="#3e3a39" stroke-width="1.2" />
<line x1="21.3" y1="972" x2="354.7" y2="972" stroke="#3e3a39" stroke-width="1.2" />
<line x1="21.3" y1="973.7" x2="354.7" y2="973.7" stroke="#3e3a39" stroke-width="1.2" />
<line x1="37.18" y1="955.3" x2="37.18" y2="973.7" stroke="#3e3a39" stroke-width="1.2" />
<line x1="53.05" y1="955.3" x2="53.05" y2="973.7" stroke="#3e3a39" stroke-width="1.2" />
<line x1="68.93" y1="955.3" x2="68.93" y2="973.7" stroke="#3e3a39" stroke-width="1.2" />
<line x1="84.8" y1="955.3" x2="84.8" y2="973.7" stroke="#3e3a39" stroke-width="1.2" />
<line x1="100.68" y1="955.3" x2="100.68" y2="973.7" stroke="#3e3a39" stroke-width="1.2" />
<line x1="116.56" y1="955.3" x2="116.56" y2="973.7" stroke="#3e3a39" stroke-width="1.2" />
<line x1="132.43" y1="955.3" x2="132.43" y2="973.7" stroke="#3e3a39" stroke-width="1.2" />
<line x1="148.31" y1="955.3" x2="148.31" y2="973.7" stroke="#3e3a39" stroke-width="1.2" />
<line x1="164.19" y1="955.3" x2="164.19" y2="973.7" stroke="#3e3a39" stroke-width="1.2" />
<line x1="180.06" y1="955.3" x2="180.06" y2="973.7" stroke="#3e3a39" stroke-width="1.2" />
<line x1="195.94" y1="955.3" x2="195.94" y2="973.7" stroke="#3e3a39" stroke-width="1.2" />
<line x1="211.81" y1="955.3" x2="211.81" y2="973.7" stroke="#3e3a39" stroke-width="1.2" />
<line x1="227.69" y1="955.3" x2="227.69" y2="973.7" stroke="#3e3a39" stroke-width="1.2" />
<line x1="243.57" y1="955.3" x2="243.57" y2="973.7" stroke="#3e3a39" stroke-width="1.2" />
<line x1="259.44" y1="955.3" x2="259.44" y2="973.7" stroke="#3e3a39" stroke-width="1.2" />
<line x1="275.32" y1="955.3" x2="275.32" y2="973.7" stroke="#3e3a39" stroke-width="1.2" />
<line x1="291.2" y1="955.3" x2="291.2" y2="973.7" stroke="#3e3a39" stroke-width="1.2" />
<line x1="307.07" y1="955.3" x2="307.07" y2="973.7" stroke="#3e3a39" stroke-width="1.2" />
<line x1="322.95" y1="955.3" x2="322.95" y2="973.7" stroke="#3e3a39" stroke-width="1.2" />
<line x1="338.82" y1="955.3" x2="338.82" y2="973.7" stroke="#3e3a39" stroke-width="1.2" />
<text x="22.1" y="968.4" font-size="11.59" fill="#2b2726" text-anchor="start" font-weight="400" font-family="Liberation Sans, sans-serif" textLength="14.28" lengthAdjust="spacingAndGlyphs" stroke="#2b2726" stroke-width="0.2">14C</text>
<text x="37.98" y="968.4" font-size="11.59" fill="#2b2726" text-anchor="start" font-weight="400" font-family="Liberation Sans, sans-serif" textLength="14.28" lengthAdjust="spacingAndGlyphs" stroke="#2b2726" stroke-width="0.2">14B</text>
<text x="53.85" y="968.4" font-size="11.59" fill="#2b2726" text-anchor="start" font-weight="400" font-family="Liberation Sans, sans-serif" textLength="14.28" lengthAdjust="spacingAndGlyphs" stroke="#2b2726" stroke-width="0.2">14A</text>
<text x="69.73" y="968.4" font-size="11.59" fill="#2b2726" text-anchor="start" font-weight="400" font-family="Liberation Sans, sans-serif" textLength="14.28" lengthAdjust="spacingAndGlyphs" stroke="#2b2726" stroke-width="0.2">13C</text>
<text x="85.6" y="968.4" font-size="11.59" fill="#2b2726" text-anchor="start" font-weight="400" font-family="Liberation Sans, sans-serif" textLength="14.28" lengthAdjust="spacingAndGlyphs" stroke="#2b2726" stroke-width="0.2">13B</text>
<text x="101.48" y="968.4" font-size="11.59" fill="#2b2726" text-anchor="start" font-weight="400" font-family="Liberation Sans, sans-serif" textLength="14.28" lengthAdjust="spacingAndGlyphs" stroke="#2b2726" stroke-width="0.2">13A</text>
<text x="117.36" y="968.4" font-size="11.59" fill="#2b2726" text-anchor="start" font-weight="400" font-family="Liberation Sans, sans-serif" textLength="14.28" lengthAdjust="spacingAndGlyphs" stroke="#2b2726" stroke-width="0.2">12C</text>
<text x="133.23" y="968.4" font-size="11.59" fill="#2b2726" text-anchor="start" font-weight="400" font-family="Liberation Sans, sans-serif" textLength="14.28" lengthAdjust="spacingAndGlyphs" stroke="#2b2726" stroke-width="0.2">12B</text>
<text x="149.11" y="968.4" font-size="11.59" fill="#2b2726" text-anchor="start" font-weight="400" font-family="Liberation Sans, sans-serif" textLength="14.28" lengthAdjust="spacingAndGlyphs" stroke="#2b2726" stroke-width="0.2">12A</text>
<text x="164.99" y="968.4" font-size="11.59" fill="#2b2726" text-anchor="start" font-weight="400" font-family="Liberation Sans, sans-serif" textLength="14.28" lengthAdjust="spacingAndGlyphs" stroke="#2b2726" stroke-width="0.2">11C</text>
<text x="180.86" y="968.4" font-size="11.59" fill="#2b2726" text-anchor="start" font-weight="400" font-family="Liberation Sans, sans-serif" textLength="14.28" lengthAdjust="spacingAndGlyphs" stroke="#2b2726" stroke-width="0.2">11B</text>
<text x="196.74" y="968.4" font-size="11.59" fill="#2b2726" text-anchor="start" font-weight="400" font-family="Liberation Sans, sans-serif" textLength="14.28" lengthAdjust="spacingAndGlyphs" stroke="#2b2726" stroke-width="0.2">11A</text>
<text x="212.61" y="968.4" font-size="11.59" fill="#2b2726" text-anchor="start" font-weight="400" font-family="Liberation Sans, sans-serif" textLength="14.28" lengthAdjust="spacingAndGlyphs" stroke="#2b2726" stroke-width="0.2">10C</text>
<text x="228.49" y="968.4" font-size="11.59" fill="#2b2726" text-anchor="start" font-weight="400" font-family="Liberation Sans, sans-serif" textLength="14.28" lengthAdjust="spacingAndGlyphs" stroke="#2b2726" stroke-width="0.2">10B</text>
<text x="244.37" y="968.4" font-size="11.59" fill="#2b2726" text-anchor="start" font-weight="400" font-family="Liberation Sans, sans-serif" textLength="14.28" lengthAdjust="spacingAndGlyphs" stroke="#2b2726" stroke-width="0.2">10A</text>
<text x="261.08" y="970" font-size="12.6" fill="#2b2726" text-anchor="start" font-weight="400" font-family="Liberation Sans, sans-serif" textLength="12.6" lengthAdjust="spacingAndGlyphs" stroke="#2b2726" stroke-width="0.2">9C</text>
<text x="276.96" y="970" font-size="12.6" fill="#2b2726" text-anchor="start" font-weight="400" font-family="Liberation Sans, sans-serif" textLength="12.6" lengthAdjust="spacingAndGlyphs" stroke="#2b2726" stroke-width="0.2">9B</text>
<text x="292.83" y="970" font-size="12.6" fill="#2b2726" text-anchor="start" font-weight="400" font-family="Liberation Sans, sans-serif" textLength="12.6" lengthAdjust="spacingAndGlyphs" stroke="#2b2726" stroke-width="0.2">9A</text>
<text x="308.71" y="970" font-size="12.6" fill="#2b2726" text-anchor="start" font-weight="400" font-family="Liberation Sans, sans-serif" textLength="12.6" lengthAdjust="spacingAndGlyphs" stroke="#2b2726" stroke-width="0.2">8C</text>
<text x="324.59" y="970" font-size="12.6" fill="#2b2726" text-anchor="start" font-weight="400" font-family="Liberation Sans, sans-serif" textLength="12.6" lengthAdjust="spacingAndGlyphs" stroke="#2b2726" stroke-width="0.2">8B</text>
<text x="340.46" y="970" font-size="12.6" fill="#2b2726" text-anchor="start" font-weight="400" font-family="Liberation Sans, sans-serif" textLength="12.6" lengthAdjust="spacingAndGlyphs" stroke="#2b2726" stroke-width="0.2">8A</text>
<rect x="371" y="955.3" width="332.4" height="25.5" rx="0" stroke="#3e3a39" stroke-width="1.2" fill="none" />
<line x1="371" y1="957.5" x2="703.4" y2="957.5" stroke="#3e3a39" stroke-width="1.2" />
<line x1="371" y1="972" x2="703.4" y2="972" stroke="#3e3a39" stroke-width="1.2" />
<line x1="371" y1="973.7" x2="703.4" y2="973.7" stroke="#3e3a39" stroke-width="1.2" />
<line x1="386.83" y1="955.3" x2="386.83" y2="973.7" stroke="#3e3a39" stroke-width="1.2" />
<line x1="402.66" y1="955.3" x2="402.66" y2="973.7" stroke="#3e3a39" stroke-width="1.2" />
<line x1="418.49" y1="955.3" x2="418.49" y2="973.7" stroke="#3e3a39" stroke-width="1.2" />
<line x1="434.31" y1="955.3" x2="434.31" y2="973.7" stroke="#3e3a39" stroke-width="1.2" />
<line x1="450.14" y1="955.3" x2="450.14" y2="973.7" stroke="#3e3a39" stroke-width="1.2" />
<line x1="465.97" y1="955.3" x2="465.97" y2="973.7" stroke="#3e3a39" stroke-width="1.2" />
<line x1="481.8" y1="955.3" x2="481.8" y2="973.7" stroke="#3e3a39" stroke-width="1.2" />
<line x1="497.63" y1="955.3" x2="497.63" y2="973.7" stroke="#3e3a39" stroke-width="1.2" />
<line x1="513.46" y1="955.3" x2="513.46" y2="973.7" stroke="#3e3a39" stroke-width="1.2" />
<line x1="529.29" y1="955.3" x2="529.29" y2="973.7" stroke="#3e3a39" stroke-width="1.2" />
<line x1="545.11" y1="955.3" x2="545.11" y2="973.7" stroke="#3e3a39" stroke-width="1.2" />
<line x1="560.94" y1="955.3" x2="560.94" y2="973.7" stroke="#3e3a39" stroke-width="1.2" />
<line x1="576.77" y1="955.3" x2="576.77" y2="973.7" stroke="#3e3a39" stroke-width="1.2" />
<line x1="592.6" y1="955.3" x2="592.6" y2="973.7" stroke="#3e3a39" stroke-width="1.2" />
<line x1="608.43" y1="955.3" x2="608.43" y2="973.7" stroke="#3e3a39" stroke-width="1.2" />
<line x1="624.26" y1="955.3" x2="624.26" y2="973.7" stroke="#3e3a39" stroke-width="1.2" />
<line x1="640.09" y1="955.3" x2="640.09" y2="973.7" stroke="#3e3a39" stroke-width="1.2" />
<line x1="655.91" y1="955.3" x2="655.91" y2="973.7" stroke="#3e3a39" stroke-width="1.2" />
<line x1="671.74" y1="955.3" x2="671.74" y2="973.7" stroke="#3e3a39" stroke-width="1.2" />
<line x1="687.57" y1="955.3" x2="687.57" y2="973.7" stroke="#3e3a39" stroke-width="1.2" />
<text x="372.61" y="970" font-size="12.6" fill="#2b2726" text-anchor="start" font-weight="400" font-family="Liberation Sans, sans-serif" textLength="12.6" lengthAdjust="spacingAndGlyphs" stroke="#2b2726" stroke-width="0.2">7C</text>
<text x="388.44" y="970" font-size="12.6" fill="#2b2726" text-anchor="start" font-weight="400" font-family="Liberation Sans, sans-serif" textLength="12.6" lengthAdjust="spacingAndGlyphs" stroke="#2b2726" stroke-width="0.2">7B</text>
<text x="404.27" y="970" font-size="12.6" fill="#2b2726" text-anchor="start" font-weight="400" font-family="Liberation Sans, sans-serif" textLength="12.6" lengthAdjust="spacingAndGlyphs" stroke="#2b2726" stroke-width="0.2">7A</text>
<text x="420.1" y="970" font-size="12.6" fill="#2b2726" text-anchor="start" font-weight="400" font-family="Liberation Sans, sans-serif" textLength="12.6" lengthAdjust="spacingAndGlyphs" stroke="#2b2726" stroke-width="0.2">6C</text>
<text x="435.93" y="970" font-size="12.6" fill="#2b2726" text-anchor="start" font-weight="400" font-family="Liberation Sans, sans-serif" textLength="12.6" lengthAdjust="spacingAndGlyphs" stroke="#2b2726" stroke-width="0.2">6B</text>
<text x="451.76" y="970" font-size="12.6" fill="#2b2726" text-anchor="start" font-weight="400" font-family="Liberation Sans, sans-serif" textLength="12.6" lengthAdjust="spacingAndGlyphs" stroke="#2b2726" stroke-width="0.2">6A</text>
<text x="467.59" y="968" font-size="12.6" fill="#2b2726" text-anchor="start" font-weight="400" font-family="Liberation Sans, sans-serif" textLength="12.6" lengthAdjust="spacingAndGlyphs" stroke="#2b2726" stroke-width="0.2">5C</text>
<text x="483.41" y="970" font-size="12.6" fill="#2b2726" text-anchor="start" font-weight="400" font-family="Liberation Sans, sans-serif" textLength="12.6" lengthAdjust="spacingAndGlyphs" stroke="#2b2726" stroke-width="0.2">5B</text>
<text x="499.24" y="970" font-size="12.6" fill="#2b2726" text-anchor="start" font-weight="400" font-family="Liberation Sans, sans-serif" textLength="12.6" lengthAdjust="spacingAndGlyphs" stroke="#2b2726" stroke-width="0.2">5A</text>
<text x="515.07" y="970" font-size="12.6" fill="#2b2726" text-anchor="start" font-weight="400" font-family="Liberation Sans, sans-serif" textLength="12.6" lengthAdjust="spacingAndGlyphs" stroke="#2b2726" stroke-width="0.2">4C</text>
<text x="530.9" y="970" font-size="12.6" fill="#2b2726" text-anchor="start" font-weight="400" font-family="Liberation Sans, sans-serif" textLength="12.6" lengthAdjust="spacingAndGlyphs" stroke="#2b2726" stroke-width="0.2">4B</text>
<text x="546.73" y="970" font-size="12.6" fill="#2b2726" text-anchor="start" font-weight="400" font-family="Liberation Sans, sans-serif" textLength="12.6" lengthAdjust="spacingAndGlyphs" stroke="#2b2726" stroke-width="0.2">4A</text>
<text x="562.56" y="970" font-size="12.6" fill="#2b2726" text-anchor="start" font-weight="400" font-family="Liberation Sans, sans-serif" textLength="12.6" lengthAdjust="spacingAndGlyphs" stroke="#2b2726" stroke-width="0.2">3C</text>
<text x="578.39" y="970" font-size="12.6" fill="#2b2726" text-anchor="start" font-weight="400" font-family="Liberation Sans, sans-serif" textLength="12.6" lengthAdjust="spacingAndGlyphs" stroke="#2b2726" stroke-width="0.2">3B</text>
<text x="594.21" y="970" font-size="12.6" fill="#2b2726" text-anchor="start" font-weight="400" font-family="Liberation Sans, sans-serif" textLength="12.6" lengthAdjust="spacingAndGlyphs" stroke="#2b2726" stroke-width="0.2">3A</text>
<text x="610.04" y="970" font-size="12.6" fill="#2b2726" text-anchor="start" font-weight="400" font-family="Liberation Sans, sans-serif" textLength="12.6" lengthAdjust="spacingAndGlyphs" stroke="#2b2726" stroke-width="0.2">2C</text>
<text x="625.87" y="970" font-size="12.6" fill="#2b2726" text-anchor="start" font-weight="400" font-family="Liberation Sans, sans-serif" textLength="12.6" lengthAdjust="spacingAndGlyphs" stroke="#2b2726" stroke-width="0.2">2B</text>
<text x="641.7" y="970" font-size="12.6" fill="#2b2726" text-anchor="start" font-weight="400" font-family="Liberation Sans, sans-serif" textLength="12.6" lengthAdjust="spacingAndGlyphs" stroke="#2b2726" stroke-width="0.2">2A</text>
<text x="657.53" y="970" font-size="12.6" fill="#2b2726" text-anchor="start" font-weight="400" font-family="Liberation Sans, sans-serif" textLength="12.6" lengthAdjust="spacingAndGlyphs" stroke="#2b2726" stroke-width="0.2">1C</text>
<text x="673.36" y="970" font-size="12.6" fill="#2b2726" text-anchor="start" font-weight="400" font-family="Liberation Sans, sans-serif" textLength="12.6" lengthAdjust="spacingAndGlyphs" stroke="#2b2726" stroke-width="0.2">1B</text>
<text x="689.19" y="970" font-size="12.6" fill="#2b2726" text-anchor="start" font-weight="400" font-family="Liberation Sans, sans-serif" textLength="12.6" lengthAdjust="spacingAndGlyphs" stroke="#2b2726" stroke-width="0.2">1A</text>
<polyline points="693.8,972 693.8,1048.6 771.6,1048.6 771.6,797.7 919.7,797.7 936.1,824.2" stroke="#e4007f" stroke-width="2.5" fill="none" stroke-linejoin="miter" />
<polyline points="680.3,972 680.3,1067.3 783.6,1067.3 783.6,804 910.6,804 921.5,824.2" stroke="#00a0e9" stroke-width="2.5" fill="none" stroke-linejoin="miter" />
<polyline points="665.5,972 665.5,1087 793.8,1087 793.8,812 902.7,812 907.6,824.2" stroke="#00a0e9" stroke-width="2.5" fill="none" stroke-linejoin="miter" />
<line x1="563.6" y1="1049.8" x2="639.52" y2="995.49" stroke="#8c8c8c" stroke-width="2" />
<polygon points="644.4,992 636.8,1005.43 636.27,997.82 629.23,994.86" stroke="none" stroke-width="0" fill="#8c8c8c" stroke-linejoin="miter" />
<rect x="467.6" y="1049.8" width="109.9" height="85.4" rx="0" stroke="#8c8c8c" stroke-width="2" fill="none" />
<rect x="480" y="1063.6" width="84.7" height="44.3" rx="0" stroke="#3e3a39" stroke-width="1.2" fill="none" />
<line x1="480" y1="1067.2" x2="564.7" y2="1067.2" stroke="#3e3a39" stroke-width="1.2" />
<line x1="480" y1="1091.5" x2="564.7" y2="1091.5" stroke="#3e3a39" stroke-width="1.2" />
<line x1="480" y1="1094.9" x2="564.7" y2="1094.9" stroke="#3e3a39" stroke-width="1.2" />
<line x1="506.6" y1="1063.6" x2="506.6" y2="1094.9" stroke="#3e3a39" stroke-width="1.2" />
<line x1="533.5" y1="1063.6" x2="533.5" y2="1094.9" stroke="#3e3a39" stroke-width="1.2" />
<text x="483.6" y="1088.6" font-size="20.5" fill="#2b2726" text-anchor="start" font-weight="400" font-family="Liberation Sans, sans-serif" textLength="20.4" lengthAdjust="spacingAndGlyphs" >1C</text>
<text x="510" y="1088.6" font-size="20.5" fill="#2b2726" text-anchor="start" font-weight="400" font-family="Liberation Sans, sans-serif" textLength="20.5" lengthAdjust="spacingAndGlyphs" >1B</text>
<text x="537" y="1088.6" font-size="20.5" fill="#2b2726" text-anchor="start" font-weight="400" font-family="Liberation Sans, sans-serif" textLength="22" lengthAdjust="spacingAndGlyphs" >1A</text>
<line x1="495.5" y1="1092.5" x2="495.5" y2="1117.7" stroke="#00a0e9" stroke-width="2.5" />
<line x1="522.4" y1="1092.5" x2="522.4" y2="1117.7" stroke="#00a0e9" stroke-width="2.5" />
<line x1="548.6" y1="1092.5" x2="548.6" y2="1117.7" stroke="#e4007f" stroke-width="2.5" />
<text x="845.6" y="733.6" font-size="19" fill="#2b2726" text-anchor="start" font-weight="400" letter-spacing="0" font-family="Liberation Sans, sans-serif" >三线制</text>
<text x="914.2" y="732.1" font-size="16.9" fill="#2b2726" text-anchor="start" font-weight="400" font-family="Liberation Sans, sans-serif" textLength="50.5" lengthAdjust="spacingAndGlyphs" >PT100</text>
<path d="M913.3,752 L840,752 Q831,752 831,761.5 Q831,771 842,771.7" stroke="#3e3a39" stroke-width="1.3" fill="none" stroke-dasharray="1.3 2.2"/>
<circle cx="798.5" cy="762.2" r="0.7" fill="#555"/>
<rect x="840.3" y="786.3" width="11.4" height="34.5" rx="3" stroke="#3e3a39" stroke-width="1.1" fill="none" />
<line x1="840.3" y1="794.2" x2="851.7" y2="794.2" stroke="#3e3a39" stroke-width="1" />
<line x1="840.3" y1="813.3" x2="851.7" y2="813.3" stroke="#3e3a39" stroke-width="1" />
<rect x="851.7" y="785.8" width="38.3" height="35" rx="0" stroke="#3e3a39" stroke-width="1.1" fill="none" />
<rect x="858.3" y="780.8" width="30.9" height="5" rx="0" stroke="#3e3a39" stroke-width="1.1" fill="none" />
<path d="M860,780.5 A6.5,6 0 0 1 873,780.5 Z" stroke="#3e3a39" stroke-width="1.1" fill="none" />
<circle cx="849.2" cy="771.7" r="4" stroke="#3e3a39" stroke-width="1.1" fill="none"/>
<circle cx="849.2" cy="771.7" r="1.8" stroke="#3e3a39" stroke-width="1" fill="none"/>
<line x1="851.5" y1="774.5" x2="859" y2="780" stroke="#3e3a39" stroke-width="1.1" />
<path d="M890,772.7 Q894,800 890,820 L890,835 L962.5,835 L962.5,824.8" stroke="#3e3a39" stroke-width="1.2" fill="none" />
<polyline points="890,835 908.3,850.8 948.3,850.8 962.5,835" stroke="#3e3a39" stroke-width="1.1" fill="none" stroke-linejoin="miter" />
<line x1="900.8" y1="835" x2="908.3" y2="850.8" stroke="#3e3a39" stroke-width="1" />
<line x1="941.7" y1="835" x2="935.8" y2="850.8" stroke="#3e3a39" stroke-width="1" />
<rect x="904.7" y="850.8" width="42.8" height="23.9" rx="0" stroke="#3e3a39" stroke-width="1.1" fill="none" />
<line x1="908.3" y1="850.8" x2="908.3" y2="874.7" stroke="#3e3a39" stroke-width="1" />
<rect x="937" y="855" width="9.3" height="15.8" rx="0" stroke="#3e3a39" stroke-width="1" fill="none" />
<circle cx="940.8" cy="863.3" r="1.6" fill="#3e3a39"/>
<polyline points="912.4,874.7 912.4,1068" stroke="#3e3a39" stroke-width="1.1" fill="none" stroke-linejoin="miter" />
<polyline points="936.8,874.7 936.8,1068" stroke="#3e3a39" stroke-width="1.1" fill="none" stroke-linejoin="miter" />
<line x1="917.3" y1="830.8" x2="917.3" y2="1068" stroke="#3e3a39" stroke-width="1" />
<line x1="922.7" y1="824" x2="922.7" y2="1068" stroke="#3e3a39" stroke-width="1" />
<line x1="929.5" y1="830.8" x2="929.5" y2="1068" stroke="#3e3a39" stroke-width="1" />
<line x1="907.6" y1="824.2" x2="917.3" y2="830.8" stroke="#3e3a39" stroke-width="1" />
<line x1="936.1" y1="824.2" x2="929.5" y2="830.8" stroke="#3e3a39" stroke-width="1" />
<path d="M912.4,1068 Q916,1064 922,1067 Q928,1070 936.8,1066" stroke="#3e3a39" stroke-width="1" fill="none" />
<path d="M912.4,1074 Q916,1070 922,1073 Q928,1076 936.8,1071" stroke="#3e3a39" stroke-width="1" fill="none" />
<path d="M912.4,1074 L912.4,1152 A12.2,12 0 0 0 936.8,1152 L936.8,1071" stroke="#3e3a39" stroke-width="1.1" fill="none" />
<line x1="917.3" y1="1074" x2="917.3" y2="1152" stroke="#3e3a39" stroke-width="1" />
<line x1="917.3" y1="1152" x2="929.5" y2="1152" stroke="#3e3a39" stroke-width="1" />
<line x1="922.7" y1="1073" x2="922.7" y2="1150" stroke="#3e3a39" stroke-width="1" />
<line x1="929.5" y1="1074" x2="929.5" y2="1133" stroke="#3e3a39" stroke-width="1" />
<path d="M929.5,1133 L932,1136 L927,1139 L932,1142 L927,1145 L932,1148 L929.5,1150.5 L929.5,1152" stroke="#3e3a39" stroke-width="1" fill="none" />
<circle cx="907.6" cy="824.2" r="2.8" fill="#231815"/>
<circle cx="921.5" cy="824.2" r="2.8" fill="#231815"/>
<circle cx="936.1" cy="824.2" r="2.8" fill="#231815"/>
<g transform="translate(878.7,765.5) rotate(34.2)">
<path d="M9,-13.4 Q10,-22 20,-22 L96,-22 Q106,-21 108,-13.4" stroke="#3e3a39" stroke-width="1.1" fill="#f8f8f8" />
<path d="M13,-13.4 Q15,-19.5 24,-19.5 L94,-19.5 Q102,-19 104,-13.4" stroke="#3e3a39" stroke-width="1" fill="none" />
<rect x="40" y="-26.5" width="15" height="4.5" rx="0" stroke="#3e3a39" stroke-width="1" fill="#f8f8f8" />
<path d="M42,-26.5 A5.5,5.5 0 0 1 53,-26.5 Z" stroke="#3e3a39" stroke-width="1" fill="#f8f8f8" />
<rect x="60" y="-29" width="15" height="7" rx="0" stroke="#3e3a39" stroke-width="1" fill="#f8f8f8" />
<rect x="0" y="-13.4" width="112" height="13.4" rx="0" stroke="#3e3a39" stroke-width="1.2" fill="#f8f8f8" />
<line x1="0" y1="-11.2" x2="112" y2="-11.2" stroke="#3e3a39" stroke-width="1" />
<line x1="4" y1="0" x2="4" y2="-13.4" stroke="#3e3a39" stroke-width="1" />
<line x1="8" y1="0" x2="8" y2="-11.2" stroke="#3e3a39" stroke-width="1" />
<path d="M9.5,-11.2 Q12.0,-13.4 16.0,-13 Q19.0,-12 20.0,-11.2" stroke="#3e3a39" stroke-width="0.9" fill="none" />
<line x1="21.6" y1="0" x2="21.6" y2="-11.2" stroke="#3e3a39" stroke-width="1" />
<path d="M23.1,-11.2 Q25.6,-13.4 29.6,-13 Q32.6,-12 33.6,-11.2" stroke="#3e3a39" stroke-width="0.9" fill="none" />
<line x1="35.2" y1="0" x2="35.2" y2="-11.2" stroke="#3e3a39" stroke-width="1" />
<path d="M36.7,-11.2 Q39.2,-13.4 43.2,-13 Q46.2,-12 47.2,-11.2" stroke="#3e3a39" stroke-width="0.9" fill="none" />
<line x1="48.8" y1="0" x2="48.8" y2="-11.2" stroke="#3e3a39" stroke-width="1" />
<path d="M50.3,-11.2 Q52.8,-13.4 56.8,-13 Q59.8,-12 60.8,-11.2" stroke="#3e3a39" stroke-width="0.9" fill="none" />
<line x1="62.4" y1="0" x2="62.4" y2="-11.2" stroke="#3e3a39" stroke-width="1" />
<path d="M63.9,-11.2 Q66.4,-13.4 70.4,-13 Q73.4,-12 74.4,-11.2" stroke="#3e3a39" stroke-width="0.9" fill="none" />
<line x1="76" y1="0" x2="76" y2="-11.2" stroke="#3e3a39" stroke-width="1" />
<path d="M77.5,-11.2 Q80.0,-13.4 84.0,-13 Q87.0,-12 88.0,-11.2" stroke="#3e3a39" stroke-width="0.9" fill="none" />
<line x1="89.6" y1="0" x2="89.6" y2="-11.2" stroke="#3e3a39" stroke-width="1" />
<path d="M91.1,-11.2 Q93.6,-13.4 97.6,-13 Q100.6,-12 101.6,-11.2" stroke="#3e3a39" stroke-width="0.9" fill="none" />
<line x1="103.2" y1="0" x2="103.2" y2="-11.2" stroke="#3e3a39" stroke-width="1" />
<path d="M104.7,-11.2 Q107.2,-13.4 111.2,-13 Q114.2,-12 115.2,-11.2" stroke="#3e3a39" stroke-width="0.9" fill="none" />
</g>
<circle cx="919.1" cy="751.5" r="4" stroke="#3e3a39" stroke-width="1.1" fill="none"/>
<circle cx="919.1" cy="751.5" r="1.8" stroke="#3e3a39" stroke-width="1" fill="none"/>
<line x1="921.5" y1="754.5" x2="930" y2="763" stroke="#3e3a39" stroke-width="1.1" />
<text x="65.5" y="671.8" font-size="32" fill="#111" font-family="Liberation Sans, sans-serif">三线制</text>
<text x="163.8" y="673.2" font-size="35" fill="#111" font-family="Liberation Sans, sans-serif" textLength="94" lengthAdjust="spacingAndGlyphs">PT100</text>
<text x="263" y="671.8" font-size="32" fill="#111" font-family="Liberation Sans, sans-serif">输入接线图</text>
</svg>
</body></html>
